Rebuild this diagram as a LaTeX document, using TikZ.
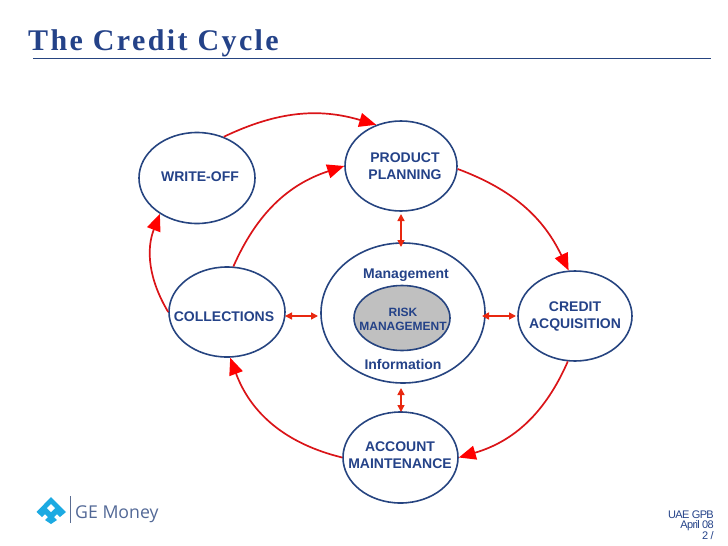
\documentclass[tikz,border=0pt]{standalone}
\usepackage{fontspec}
\setmainfont{Liberation Sans}
\newfontfamily\titlefont[LetterSpace=8]{Liberation Serif}
\newfontfamily\footfont[LetterSpace=-6]{Liberation Sans}
\newfontfamily\logofont{Open Sans}
\usetikzlibrary{arrows.meta,shapes.geometric}
\definecolor{gebluedark}{RGB}{36,66,136}
\definecolor{geline}{RGB}{38,68,128}
\definecolor{gered}{RGB}{218,20,24}
\definecolor{georange}{RGB}{232,40,16}
\definecolor{gegrey}{RGB}{192,192,192}
\definecolor{gelogo}{RGB}{28,170,226}
\definecolor{geword}{RGB}{82,104,150}
\begin{document}
\begin{tikzpicture}[x=1pt,y=-1pt]
	\tikzstyle{Cycle} = [ellipse, draw=geline, line width=1.6pt, inner sep=0pt]
	\tikzstyle{Label} = [inner sep=0pt, align=center, text=gebluedark, font=\fontsize{14}{17}\selectfont\bfseries]
	\tikzstyle{Foot} = [anchor=base east, inner sep=0pt, text=gebluedark, font=\fontsize{11}{12}\selectfont\footfont]
	\tikzstyle{Big} = [-{Triangle[length=17pt,width=14pt,red]}, gered, line width=1.7pt]
	\tikzstyle{Small} = [{Triangle[length=7pt,width=7pt]}-{Triangle[length=7pt,width=7pt]}, georange, line width=1.5pt]
	\useasboundingbox (0,0) rectangle (728,546);
	\node (title) at (28,50) [anchor=base west, inner sep=0pt, text=gebluedark, font=\fontsize{30}{32}\selectfont\titlefont\bfseries] {The Credit Cycle};
	\coordinate (ruleleft) at (33,58);
	\coordinate (ruleright) at (711,58);
	\draw [geline, line width=0.8pt] (ruleleft) to (ruleright);
	\node (writeoff) at (197,178) [Cycle, minimum width=116, minimum height=91] {};
	\node (planning) at (401,166) [Cycle, minimum width=112, minimum height=90] {};
	\node (collections) at (227,312) [Cycle, minimum width=116, minimum height=90] {};
	\node (core) at (403,313) [Cycle, minimum width=164, minimum height=140] {};
	\node (risk) at (402,318) [Cycle, fill=gegrey, minimum width=96, minimum height=65] {};
	\node (acquisition) at (575,316) [Cycle, minimum width=114, minimum height=90] {};
	\node (maintenance) at (400.5,457.5) [Cycle, minimum width=115, minimum height=91] {};
	\node (writeofftext) at (200,181) [Label, anchor=base] {WRITE-OFF};
	\node (planningtext) at (405,166.5) [Label] {PRODUCT\\PLANNING};
	\node (collectionstext) at (224,321) [Label, anchor=base] {COLLECTIONS};
	\node (risktext) at (403,319) [Label, font=\fontsize{12}{14}\selectfont\bfseries] {RISK\\MANAGEMENT};
	\node (acquisitiontext) at (575,316) [Label] {CREDIT\\ACQUISITION};
	\node (maintenancetext) at (400,455.5) [Label] {ACCOUNT\\MAINTENANCE};
	\node (management) at (406,278) [Label, anchor=base] {Management};
	\node (information) at (403,369) [Label, anchor=base] {Information};
	\draw [Big] (writeoff.57) to [bend left=21] (planning.121);
	\draw [Big] (collections.82) to [bend left=24] (planning.180);
	\draw [Big] (planning.-3) to [bend left=22] (acquisition.98);
	\draw [Big] (acquisition.-99) to [bend left=25] (maintenance.0);
	\draw [Big] (maintenance.180) to [bend left=28] (collections.-86);
	\draw [Big] (collections.180) to [bend left=26] (writeoff.-136);
	\coordinate (plantop) at (401,214);
	\coordinate (planbottom) at (401,247);
	\coordinate (mainttop) at (401,388);
	\coordinate (maintbottom) at (401,412);
	\coordinate (leftstart) at (285,316);
	\coordinate (leftend) at (318,316);
	\coordinate (rightstart) at (482,316);
	\coordinate (rightend) at (516,316);
	\draw [Small] (plantop) to (planbottom);
	\draw [Small] (mainttop) to (maintbottom);
	\draw [Small] (leftstart) to (leftend);
	\draw [Small] (rightstart) to (rightend);
	\node (uae) at (714,518) [Foot] {UAE GPB};
	\node (april) at (714,528) [Foot] {April 08};
	\node (page) at (714,539) [Foot] {2 /};
	\fill [gelogo] (51,497) -- (66,512) -- (60,517) -- (57,514) -- (54,517) -- (57,520) -- (51,524) -- (45,520) -- (48,517) -- (45,514) -- (42,517) -- (36.5,512) -- cycle;
	\fill [white] (51,504) -- (55,508) -- (51,512) -- (47,508) -- cycle;
	\coordinate (logotop) at (70,496);
	\coordinate (logobottom) at (70,523);
	\draw [geword!80!gray, line width=0.8pt] (logotop) to (logobottom);
	\node (money) at (75,518) [anchor=base west, inner sep=0pt, text=geword, font=\fontsize{17.7}{20}\selectfont\logofont] {GE Money};
\end{tikzpicture}
\end{document}
